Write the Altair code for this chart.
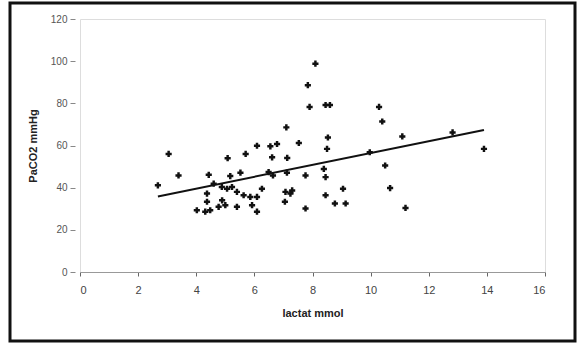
import altair as alt
import pandas as pd

x_vals = [8.1, 7.84, 7.9, 8.45, 8.6, 7.1, 8.53, 8.5, 7.53, 6.09, 6.55, 6.78,
          5.7, 5.08, 6.61, 7.13, 3.05, 3.39, 2.68, 4.43, 5.17, 5.52, 6.49, 6.64,
          7.12, 7.76, 8.45, 4.6, 4.88, 5.06, 5.23, 5.4, 4.37, 4.37, 4.89, 5.63,
          5.86, 6.09, 5.92, 6.26, 7.07, 7.3, 7.24, 8.45, 8.77, 4.02, 4.31, 4.48,
          4.77, 5.0, 5.4, 6.09, 7.05, 7.76, 10.29, 10.4, 11.09, 12.82, 13.9,
          9.97, 10.5, 10.67, 11.2, 9.05, 9.14, 8.39]
y_vals = [98.8, 88.6, 78.3, 79.2, 79.2, 68.6, 63.8, 58.4, 61.2, 59.9, 59.6, 60.7,
          56.0, 54.0, 54.4, 54.1, 56.0, 45.8, 41.1, 46.1, 45.5, 47.1, 47.4, 45.8,
          47.1, 45.8, 45.0, 41.9, 40.3, 39.5, 40.3, 38.0, 37.2, 33.3, 34.0, 36.4,
          35.6, 35.6, 31.7, 39.5, 38.0, 38.7, 37.2, 36.4, 32.5, 29.3, 28.6, 29.3,
          30.9, 31.7, 30.9, 28.6, 33.3, 30.1, 78.3, 71.4, 64.3, 66.2, 58.4,
          56.8, 50.5, 39.8, 30.4, 39.5, 32.5, 48.9]

x_ticks = [0, 2, 4, 6, 8, 10, 12, 14, 16]
y_ticks = [0, 20, 40, 60, 80, 100, 120]
x_title = "lactat mmol"
y_title = "PaCO2 mmHg"

df = pd.DataFrame({"x": x_vals, "y": y_vals})

W, H = 465, 253

xs = alt.X("x:Q", scale=alt.Scale(domain=[0, 16], nice=False),
           axis=alt.Axis(values=x_ticks, title=x_title, grid=False,
                         domainColor="#999", tickColor="#666", tickSize=4,
                         labelPadding=8, titlePadding=12, labelFontSize=11,
                         labelColor="#444", titleFontSize=11, titleFontWeight="bold",
                         titleColor="#222"))
ys = alt.Y("y:Q", scale=alt.Scale(domain=[0, 120], nice=False),
           axis=alt.Axis(values=y_ticks, title=y_title, grid=False, domain=False,
                         tickColor="#888", tickSize=5, offset=5, labelPadding=3,
                         titlePadding=12, labelFontSize=10, labelColor="#555",
                         titleFontSize=11, titleFontWeight="bold", titleColor="#222"))

points = alt.Chart(df).mark_point(shape="cross", filled=True, color="#111",
                                  size=38, opacity=1).encode(x=xs, y=ys)

line = alt.Chart(df).transform_regression("x", "y").mark_line(
    color="#111", strokeWidth=2).encode(x="x:Q", y="y:Q")

frame = alt.Chart(pd.DataFrame({"a": [0]})).mark_rect(
    fill=None, stroke="#111", strokeWidth=3).encode(
    x=alt.value(-70), x2=alt.value(495), y=alt.value(-16), y2=alt.value(322))

chart = alt.layer(points, line, frame).properties(
    width=W, height=H,
    autosize=alt.AutoSizeParams(type="none"),
    padding={"left": 80, "top": 19, "right": 35, "bottom": 73},
).configure_view(stroke=None).configure(font="Liberation Sans", background="white")

chart.save("out.html", embed_options={"renderer": "svg", "actions": False})
